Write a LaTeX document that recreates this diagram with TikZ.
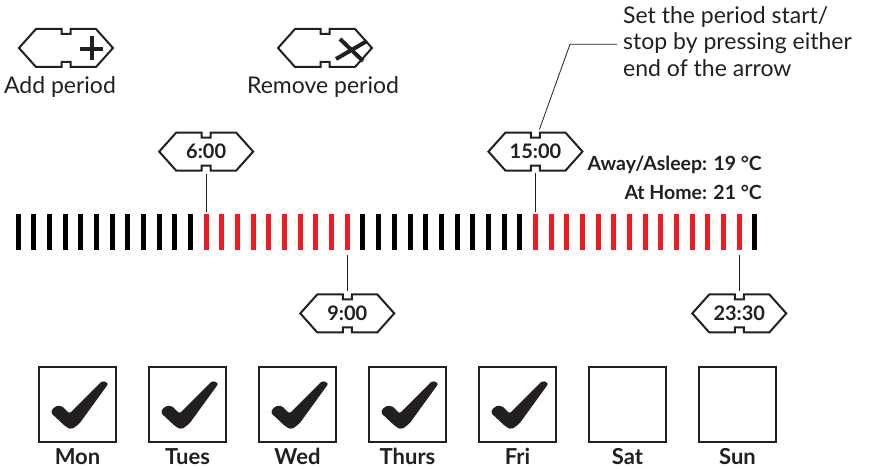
\documentclass[tikz,border=0pt]{standalone}
\usepackage{fontspec}
\setmainfont{Lato}
\usetikzlibrary{positioning}
\definecolor{alarmred}{RGB}{237,28,36}
\definecolor{inkgray}{RGB}{35,31,32}
% outline of a time tag round a named node
\newcommand\tagoutline[1]{%
  \draw[tagline, shift={(#1.center)}] (-47,0) -- (-30,-19) -- (-4.5,-19) -- (-4.5,-14)
    -- (4.5,-14) -- (4.5,-19) -- (30,-19) -- (47,0) -- (30,19) -- (4.5,19) -- (4.5,14)
    -- (-4.5,14) -- (-4.5,19) -- (-30,19) -- cycle;}
% check mark in a day box
\newcommand\tickmark[1]{%
  \fill[inkgray, rounded corners=2pt, shift={(#1.center)}] (-27,8) -- (-23,2) -- (-16,1)
    -- (-8,9) -- (25,-24) -- (31,-21) -- (2,19) -- (-6,25) -- (-12,22) -- cycle;}
\begin{document}
\begin{tikzpicture}[x=1pt, y=-1pt,
  tagline/.style={draw=inkgray, line width=2, line join=miter},
  tag/.style={minimum width=94, minimum height=38, inner sep=0, text=inkgray,
    font=\bfseries\fontsize{20}{20}\selectfont},
  bar/.style={minimum width=5, minimum height=36, inner sep=0},
  lead/.style={draw=inkgray, line width=0.8},
  caption/.style={inner sep=0, text=inkgray, font=\fontsize{23}{23}\selectfont},
  temp/.style={inner sep=0, anchor=east, text=inkgray, font=\bfseries\fontsize{19.5}{19.5}\selectfont},
  daybox/.style={draw=inkgray, line width=2, minimum width=77, minimum height=75, inner sep=0},
  daylbl/.style={inner sep=0, anchor=base, text=inkgray, font=\bfseries\fontsize{22}{22}\selectfont}]
\useasboundingbox (0,0) rectangle (869,468);

% icons
\node[tag] (add) at (66,48) {};
\tagoutline{add}
\draw[inkgray, line width=4.5, shift={(add.center)}] (26,-11.5) -- (26,12) (14,1) -- (37,1);
\node[caption] (addtxt) at (60,87) {Add period};

\node[tag] (remove) at (325,48) {};
\tagoutline{remove}
\draw[inkgray, line width=4, shift={(remove.center)}] (15,-9) -- (38,13) (11,11) -- (42,-7);
\node[caption] (removetxt) at (323,87) {Remove period};

% note
\node[caption, anchor=north west, align=left, font=\fontsize{23}{26.5}\selectfont] (note) at (623,6)
  {Set the period start/\\stop by pressing either\\end of the arrow};

% time line
\foreach \i in {0,...,47}{
  \def\barcol{black}
  \ifnum\i>11 \ifnum\i<22 \def\barcol{alarmred}\fi\fi
  \ifnum\i>32 \ifnum\i<47 \def\barcol{alarmred}\fi\fi
  \node[bar, fill=\barcol] (b\i) at (18+15.68*\i,232) {};
}

% time tags
\node[tag, above=43pt of b12] (t6) {6:00};
\node[tag, above=43pt of b33] (t15) {15:00};
\node[tag, below=44pt of b21] (t9) {9:00};
\node[tag, below=44pt of b46] (t2330) {23:30};
\foreach \t in {t6,t15,t9,t2330} {\tagoutline{\t}}
\draw[lead, shorten <=3, shorten >=2] (t6.south) -- (b12.north);
\draw[lead, shorten <=2, shorten >=2] (t15.south) -- (b33.north);
\draw[lead, shorten <=5, shorten >=3] (b21.south) -- (t9.north);
\draw[lead, shorten <=5, shorten >=3] (b46.south) -- (t2330.north);
\draw[lead] ([xshift=-6pt,yshift=-3pt]note.west) -- ++(-47,0) -- ([xshift=4pt,yshift=3pt]t15.north);

\node[temp] (away) at (762,165) {Away/Asleep: 19 °C};
\node[temp] (home) at (762,192) {At Home: 21 °C};

% days
\foreach \d/\n [count=\k from 0] in {Mon/mon,Tues/tue,Wed/wed,Thurs/thu,Fri/fri,Sat/sat,Sun/sun}{
  \node[daybox] (\n) at (77.5+110*\k,404.5) {};
  \node[daylbl] (\n lbl) at (\n.south |- 0,464) {\d};
}
\foreach \n in {mon,tue,wed,thu,fri} {\tickmark{\n}}
\end{tikzpicture}
\end{document}
